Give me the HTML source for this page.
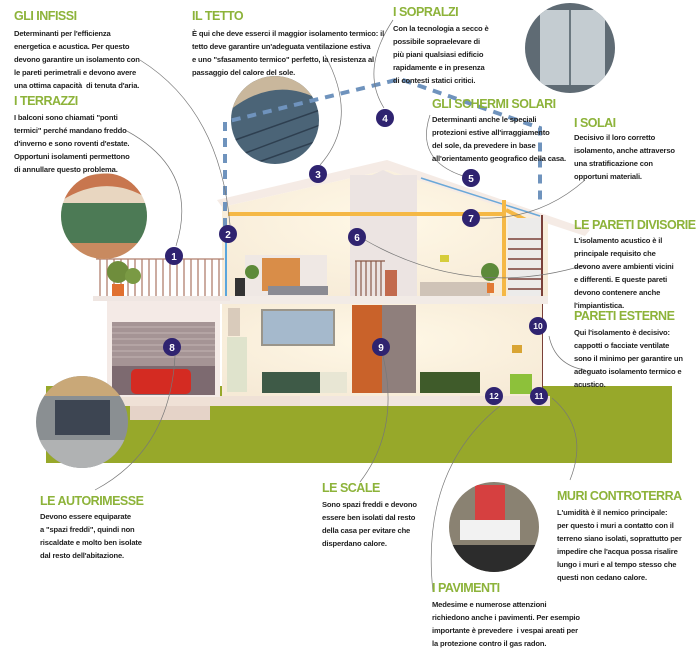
<!DOCTYPE html>
<html><head><meta charset="utf-8"><style>
body{margin:0;width:700px;height:650px;background:#fff;position:relative;overflow:hidden;font-family:"Liberation Sans",sans-serif}
.h{position:absolute;color:#8db33a;font-weight:bold;font-size:12.5px;letter-spacing:-0.5px;white-space:nowrap;transform-origin:0 0}
.t{position:absolute;color:#222;font-weight:bold;font-size:7.6px;line-height:13px;letter-spacing:-0.15px;white-space:nowrap}
svg{position:absolute;left:0;top:0}
</style></head><body>
<svg width="700" height="650" viewBox="0 0 700 650">
<defs>
<radialGradient id="wall" cx="50%" cy="40%" r="70%"><stop offset="0" stop-color="#fff8e6"/><stop offset="1" stop-color="#f6ead6"/></radialGradient>
<clipPath id="c1"><circle cx="104" cy="216" r="43"/></clipPath>
<clipPath id="c2"><circle cx="275" cy="120" r="44"/></clipPath>
<clipPath id="c3"><circle cx="570" cy="48" r="45"/></clipPath>
<clipPath id="c4"><circle cx="82" cy="422" r="46"/></clipPath>
<clipPath id="c5"><circle cx="494" cy="527" r="45"/></clipPath>
</defs>
<rect x="46" y="386" width="626" height="77" fill="#97a82a"/>
<rect x="100" y="396" width="450" height="10" fill="#efe1d6"/>
<rect x="130" y="406" width="80" height="14" fill="#e5d3c8"/>
<rect x="300" y="388" width="160" height="18" fill="#f1e6df"/>
<polygon points="217,200 387,160 590,230 585,236 387,170 222,207" fill="#f5ebe5"/>
<polygon points="222,207 387,170 548,222 548,298 222,298" fill="url(#wall)"/>
<rect x="350" y="175" width="67" height="123" fill="#ece4e2"/>
<polygon points="350,185 383,170 417,185" fill="#ece4e2"/>
<line x1="421" y1="178" x2="540" y2="216" stroke="#6aa8d8" stroke-width="1.5"/>
<rect x="228" y="212" width="122" height="4" fill="#f5b845"/>
<rect x="350" y="212" width="67" height="4" fill="#f5b845"/>
<rect x="417" y="212" width="85" height="4" fill="#f5b845"/>
<rect x="502" y="200" width="4" height="98" fill="#f5b845"/>
<line x1="506" y1="210" x2="542" y2="228" stroke="#f5b845" stroke-width="4"/>
<rect x="508" y="218" width="34" height="80" fill="#ecebea"/>
<g stroke="#7a4038" stroke-width="1.5">
<line x1="508" y1="239" x2="543" y2="239"/><line x1="508" y1="249" x2="543" y2="249"/><line x1="508" y1="259" x2="543" y2="259"/><line x1="508" y1="269" x2="543" y2="269"/><line x1="508" y1="279" x2="543" y2="279"/><line x1="508" y1="289" x2="543" y2="289"/>
</g>
<line x1="542" y1="215" x2="542" y2="396" stroke="#7a4038" stroke-width="2"/>
<rect x="245" y="255" width="82" height="43" fill="#efe8e4"/>
<rect x="262" y="258" width="38" height="33" fill="#d98d48"/>
<rect x="268" y="286" width="60" height="9" fill="#8b8b93"/>
<rect x="235" y="278" width="10" height="18" fill="#333"/>
<circle cx="252" cy="272" r="7" fill="#5d8a3a"/>
<g stroke="#8a5a4a" stroke-width="1.2">
<line x1="355" y1="261" x2="385" y2="261"/>
<line x1="356" y1="261" x2="356" y2="297"/><line x1="361" y1="261" x2="361" y2="297"/><line x1="366" y1="261" x2="366" y2="297"/><line x1="371" y1="261" x2="371" y2="297"/><line x1="376" y1="261" x2="376" y2="297"/><line x1="381" y1="261" x2="381" y2="297"/>
</g>
<rect x="385" y="270" width="12" height="28" fill="#c26a4d"/>
<rect x="420" y="282" width="70" height="14" fill="#cfc3b7"/>
<rect x="440" y="255" width="9" height="7" fill="#d6cd3a"/>
<circle cx="490" cy="272" r="9" fill="#5d8a3a"/>
<rect x="487" y="283" width="7" height="10" fill="#e27a33"/>
<rect x="218" y="296" width="330" height="8" fill="#f2ebe6"/>
<rect x="222" y="304" width="320" height="92" fill="url(#wall)"/>
<rect x="228" y="308" width="12" height="28" fill="#d9cbbb"/>
<rect x="227" y="337" width="20" height="55" fill="#dfe3cc"/>
<rect x="262" y="310" width="72" height="35" fill="#a5b9cc" stroke="#9a958a" stroke-width="2"/>
<rect x="262" y="372" width="85" height="21" fill="#3e5a47"/>
<rect x="320" y="372" width="27" height="21" fill="#e8e6d4"/>
<rect x="352" y="305" width="30" height="88" fill="#c9622a"/>
<rect x="382" y="305" width="34" height="88" fill="#8f7f7c"/>
<rect x="420" y="372" width="60" height="21" fill="#3f5b2a"/>
<rect x="512" y="345" width="10" height="8" fill="#d9a534"/>
<rect x="510" y="374" width="22" height="20" fill="#8dc13a"/>
<g stroke="#b07f6e" stroke-width="1.3">
<line x1="96" y1="259" x2="224" y2="259"/>
<line x1="100" y1="259" x2="100" y2="296"/><line x1="107" y1="259" x2="107" y2="296"/><line x1="114" y1="259" x2="114" y2="296"/><line x1="121" y1="259" x2="121" y2="296"/><line x1="128" y1="259" x2="128" y2="296"/><line x1="135" y1="259" x2="135" y2="296"/><line x1="142" y1="259" x2="142" y2="296"/><line x1="149" y1="259" x2="149" y2="296"/><line x1="156" y1="259" x2="156" y2="296"/><line x1="163" y1="259" x2="163" y2="296"/><line x1="170" y1="259" x2="170" y2="296"/><line x1="177" y1="259" x2="177" y2="296"/><line x1="184" y1="259" x2="184" y2="296"/><line x1="191" y1="259" x2="191" y2="296"/><line x1="198" y1="259" x2="198" y2="296"/><line x1="205" y1="259" x2="205" y2="296"/><line x1="212" y1="259" x2="212" y2="296"/><line x1="219" y1="259" x2="219" y2="296"/>
</g>
<circle cx="118" cy="272" r="11" fill="#6f8d3c"/><circle cx="133" cy="276" r="8" fill="#7a9a44"/>
<rect x="112" y="284" width="12" height="12" fill="#e07030"/>
<line x1="226" y1="225" x2="226" y2="296" stroke="#5aa6dd" stroke-width="2"/>
<rect x="93" y="296" width="137" height="5" fill="#efe6e2"/>
<rect x="107" y="301" width="113" height="96" fill="#f4eae6"/>
<rect x="112" y="322" width="103" height="44" fill="#a59495"/>
<g stroke="#c3b4b3" stroke-width="1"><line x1="112" y1="327" x2="215" y2="327"/><line x1="112" y1="333" x2="215" y2="333"/><line x1="112" y1="339" x2="215" y2="339"/><line x1="112" y1="345" x2="215" y2="345"/><line x1="112" y1="351" x2="215" y2="351"/><line x1="112" y1="357" x2="215" y2="357"/></g>
<rect x="112" y="366" width="103" height="29" fill="#7d6a70"/>
<rect x="131" y="369" width="60" height="25" rx="5" fill="#d42b22"/>
<g clip-path="url(#c1)">
<rect x="60" y="170" width="90" height="90" fill="#e8d6c0"/>
<path d="M55,205 Q104,170 150,200 L150,185 Q104,160 55,190Z" fill="#c8764e"/>
<rect x="60" y="203" width="90" height="40" fill="#4c7a55"/>
<rect x="60" y="243" width="90" height="20" fill="#c88a60"/>
</g>
<g clip-path="url(#c2)">
<rect x="230" y="75" width="90" height="90" fill="#4b6477"/>
<path d="M230,110 Q275,75 320,100 L320,75 L230,75Z" fill="#c9b79c"/>
<g stroke="#2e3f50" stroke-width="1.5"><line x1="235" y1="140" x2="320" y2="110"/><line x1="240" y1="155" x2="320" y2="125"/><line x1="250" y1="165" x2="320" y2="140"/></g>
</g>
<g clip-path="url(#c3)">
<rect x="525" y="3" width="90" height="90" fill="#5f6b74"/>
<rect x="540" y="10" width="65" height="75" fill="#c4ccd1"/>
<line x1="570" y1="10" x2="570" y2="85" stroke="#6b7880" stroke-width="2"/>
</g>
<g clip-path="url(#c4)">
<rect x="36" y="376" width="92" height="92" fill="#8a8f92"/>
<rect x="36" y="376" width="92" height="20" fill="#c9a878"/>
<rect x="55" y="400" width="55" height="35" fill="#3d4552"/>
<rect x="36" y="440" width="92" height="30" fill="#b0b2b3"/>
</g>
<g clip-path="url(#c5)">
<rect x="449" y="482" width="90" height="90" fill="#8a8272"/>
<rect x="475" y="485" width="30" height="35" fill="#d64040"/>
<rect x="460" y="520" width="60" height="20" fill="#f2f2f2"/>
<rect x="449" y="545" width="90" height="27" fill="#2c2c2c"/>
</g>
<polyline points="225,227 225,122 400,79 540,128 540,205" fill="none" stroke="#6f93bd" stroke-width="4" stroke-dasharray="9,7"/>
<g fill="none" stroke="#777" stroke-width="0.7">
<path d="M140,60 Q220,110 230,225"/>
<path d="M125,130 Q200,170 176,246"/>
<path d="M325,55 Q360,120 320,165"/>
<path d="M393,20 Q360,70 384,108"/>
<path d="M430,115 Q415,160 463,176"/>
<path d="M585,180 Q540,220 480,218"/>
<path d="M585,265 Q470,300 365,240"/>
<path d="M585,370 Q555,365 549,336"/>
<path d="M95,490 Q170,450 175,356"/>
<path d="M360,482 Q400,430 383,356"/>
<path d="M433,592 Q420,470 500,406"/>
<path d="M570,480 Q590,430 552,398"/>
</g>
<g fill="#2f2370" font-family="Liberation Sans" font-weight="bold" font-size="10">
<circle cx="174" cy="256" r="9"/><circle cx="228" cy="234" r="9"/><circle cx="318" cy="174" r="9"/><circle cx="385" cy="118" r="9"/><circle cx="471" cy="178" r="9"/><circle cx="357" cy="237" r="9"/><circle cx="471" cy="218" r="9"/><circle cx="172" cy="347" r="9"/><circle cx="381" cy="347" r="9"/><circle cx="538" cy="326" r="9"/><circle cx="539" cy="396" r="9"/><circle cx="494" cy="396" r="9"/>
<g fill="#fff" text-anchor="middle">
<text x="174" y="260">1</text><text x="228" y="238">2</text><text x="318" y="178">3</text><text x="385" y="122">4</text><text x="471" y="182">5</text><text x="357" y="241">6</text><text x="471" y="222">7</text><text x="172" y="351">8</text><text x="381" y="351">9</text><text x="538" y="329" font-size="8.5">10</text><text x="539" y="399" font-size="8.5">11</text><text x="494" y="399" font-size="8.5">12</text>
</g></g>
</svg>

<div class="h" style="left:14px;top:9px">GLI INFISSI</div>
<div class="t" style="left:14px;top:27px">Determinanti per l'efficienza<br>energetica e acustica. Per questo<br>devono garantire un isolamento con<br>le pareti perimetrali e devono avere<br>una ottima capacità&nbsp; di tenuta d'aria.</div>
<div class="h" style="left:14px;top:94px">I TERRAZZI</div>
<div class="t" style="left:14px;top:111px">I balconi sono chiamati "ponti<br>termici" perché mandano freddo<br>d'inverno e sono roventi d'estate.<br>Opportuni isolamenti permettono<br>di annullare questo problema.</div>
<div class="h" style="left:192px;top:9px">IL TETTO</div>
<div class="t" style="left:192px;top:27px">È qui che deve esserci il maggior isolamento termico: il<br>tetto deve garantire un'adeguata ventilazione estiva<br>e uno "sfasamento termico" perfetto, la resistenza al<br>passaggio del calore del sole.</div>
<div class="h" style="left:393px;top:5px">I SOPRALZI</div>
<div class="t" style="left:393px;top:22px">Con la tecnologia a secco è<br>possibile sopraelevare di<br>più piani qualsiasi edificio<br>rapidamente e in presenza<br>di contesti statici critici.</div>
<div class="h" style="left:432px;top:97px">GLI SCHERMI SOLARI</div>
<div class="t" style="left:432px;top:113px">Determinanti anche le speciali<br>protezioni estive all'irraggiamento<br>del sole, da prevedere in base<br>all'orientamento geografico della casa.</div>
<div class="h" style="left:574px;top:116px">I SOLAI</div>
<div class="t" style="left:574px;top:131px">Decisivo il loro corretto<br>isolamento, anche attraverso<br>una stratificazione con<br>opportuni materiali.</div>
<div class="h" style="left:574px;top:218px">LE PARETI DIVISORIE</div>
<div class="t" style="left:574px;top:234px">L'isolamento acustico è il<br>principale requisito che<br>devono avere ambienti vicini<br>e differenti. E queste pareti<br>devono contenere anche<br>l'impiantistica.</div>
<div class="h" style="left:574px;top:309px">PARETI ESTERNE</div>
<div class="t" style="left:574px;top:326px">Qui l'isolamento è decisivo:<br>cappotti o facciate ventilate<br>sono il minimo per garantire un<br>adeguato isolamento termico e<br>acustico.</div>
<div class="h" style="left:40px;top:494px">LE AUTORIMESSE</div>
<div class="t" style="left:40px;top:510px">Devono essere equiparate<br>a "spazi freddi", quindi non<br>riscaldate e molto ben isolate<br>dal resto dell'abitazione.</div>
<div class="h" style="left:322px;top:481px">LE SCALE</div>
<div class="t" style="left:322px;top:498px">Sono spazi freddi e devono<br>essere ben isolati dal resto<br>della casa per evitare che<br>disperdano calore.</div>
<div class="h" style="left:557px;top:489px">MURI CONTROTERRA</div>
<div class="t" style="left:557px;top:506px">L'umidità è il nemico principale:<br>per questo i muri a contatto con il<br>terreno siano isolati, soprattutto per<br>impedire che l'acqua possa risalire<br>lungo i muri e al tempo stesso che<br>questi non cedano calore.</div>
<div class="h" style="left:432px;top:581px">I PAVIMENTI</div>
<div class="t" style="left:432px;top:598px">Medesime e numerose attenzioni<br>richiedono anche i pavimenti. Per esempio<br>importante è prevedere&nbsp; i vespai areati per<br>la protezione contro il gas radon.</div>
</body></html>
